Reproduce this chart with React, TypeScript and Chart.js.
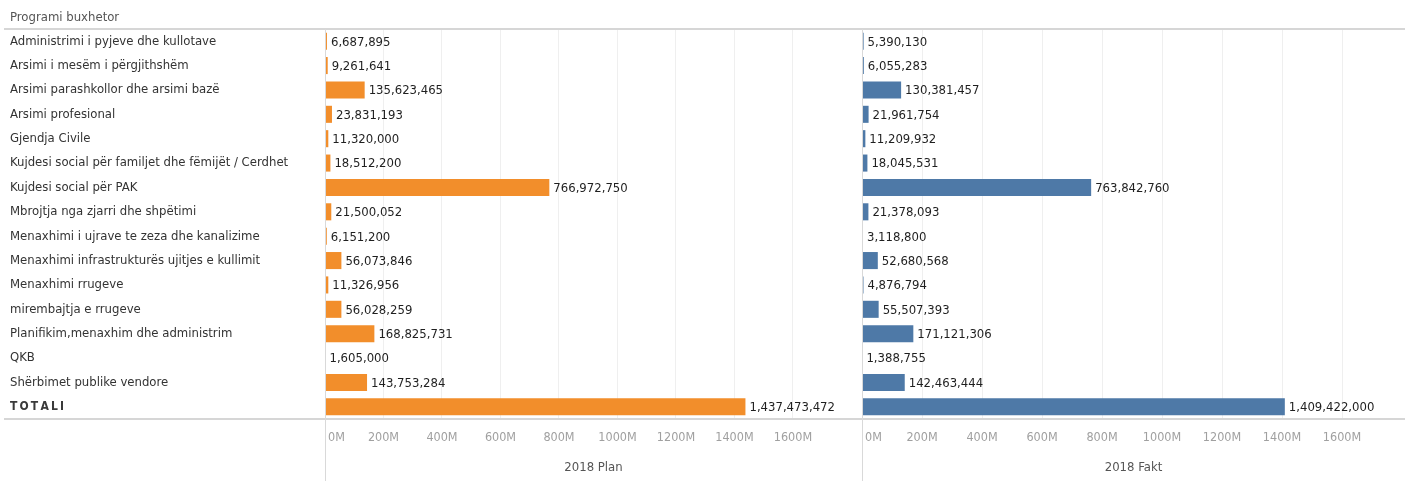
import React, { useEffect, useRef } from 'react';
import { Chart, registerables } from 'chart.js';

Chart.register(...registerables);

const headerTitle = 'Programi buxhetor';

const categories = [
  'Administrimi i pyjeve dhe kullotave',
  'Arsimi i mesëm i përgjithshëm',
  'Arsimi parashkollor dhe arsimi bazë',
  'Arsimi profesional',
  'Gjendja Civile',
  'Kujdesi social për familjet dhe fëmijët / Cerdhet',
  'Kujdesi social për PAK',
  'Mbrojtja nga zjarri dhe shpëtimi',
  'Menaxhimi i ujrave te zeza dhe kanalizime',
  'Menaxhimi infrastrukturës ujitjes e kullimit',
  'Menaxhimi rrugeve',
  'mirembajtja e rrugeve',
  'Planifikim,menaxhim dhe administrim',
  'QKB',
  'Shërbimet publike vendore',
  'TOTALI',
];

const planValues = [
  6687895, 9261641, 135623465, 23831193, 11320000, 18512200, 766972750, 21500052,
  6151200, 56073846, 11326956, 56028259, 168825731, 1605000, 143753284, 1437473472,
];

const faktValues = [
  5390130, 6055283, 130381457, 21961754, 11209932, 18045531, 763842760, 21378093,
  3118800, 52680568, 4876794, 55507393, 171121306, 1388755, 142463444, 1409422000,
];

const tickValues = [0, 200e6, 400e6, 600e6, 800e6, 1000e6, 1200e6, 1400e6, 1600e6];
const tickLabels = ['0M', '200M', '400M', '600M', '800M', '1000M', '1200M', '1400M', '1600M'];

const panelTitles = ['2018 Plan', '2018 Fakt'];

const W = 1405;
const H = 481;
const FONT = "'DejaVu Sans Condensed', 'Liberation Sans Narrow', 'DejaVu Sans', sans-serif";

const decorPlugin = {
  id: 'decor',
  afterDraw(chart: any) {
    const ctx = chart.ctx;
    const area = chart.chartArea;
    ctx.save();
    // header
    ctx.font = `13px ${FONT}`;
    ctx.fillStyle = '#555';
    ctx.textAlign = 'left';
    ctx.textBaseline = 'middle';
    ctx.fillText(headerTitle, 10, 18);

    // horizontal rules
    ctx.strokeStyle = '#d6d6d6';
    ctx.lineWidth = 2;
    ctx.beginPath();
    ctx.moveTo(4, area.top);
    ctx.lineTo(W, area.top);
    ctx.moveTo(4, area.bottom);
    ctx.lineTo(W, area.bottom);
    ctx.stroke();

    // vertical panel separators
    const xPlan = chart.scales.xPlan;
    const xFakt = chart.scales.xFakt;
    ctx.strokeStyle = '#d9d9d9';
    ctx.lineWidth = 1;
    ctx.beginPath();
    [xPlan.left, xFakt.left].forEach((x: number) => {
      const px = Math.round(x) + 0.5;
      ctx.moveTo(px, area.top);
      ctx.lineTo(px, H);
    });
    ctx.stroke();

    // tick labels
    ctx.font = `12.5px ${FONT}`;
    ctx.fillStyle = '#a0a0a0';
    ctx.textBaseline = 'middle';
    [xPlan, xFakt].forEach((scale: any) => {
      tickValues.forEach((v, i) => {
        const x = scale.getPixelForValue(v);
        if (i === 0) {
          ctx.textAlign = 'left';
          ctx.fillText(tickLabels[i], x + 3, area.bottom + 19);
        } else {
          ctx.textAlign = 'center';
          ctx.fillText(tickLabels[i], x, area.bottom + 19);
        }
      });
    });

    // value labels
    ctx.font = `13px ${FONT}`;
    ctx.fillStyle = '#1f1f1f';
    ctx.textAlign = 'left';
    chart.data.datasets.forEach((ds: any, di: number) => {
      const meta = chart.getDatasetMeta(di);
      meta.data.forEach((bar: any, i: number) => {
        const v = ds.data[i] as number;
        ctx.fillText(v.toLocaleString('en-US'), bar.x + 4, bar.y + 1);
      });
    });
    ctx.restore();
  },
};

export default function App() {
  const ref = useRef<HTMLCanvasElement | null>(null);

  useEffect(() => {
    const canvas = ref.current;
    if (!canvas) return;
    const lastIndex = categories.length - 1;
    const chart = new Chart(canvas, {
      type: 'bar',
      data: {
        labels: categories,
        datasets: [
          {
            label: panelTitles[0],
            data: planValues,
            xAxisID: 'xPlan',
            backgroundColor: '#F28E2B',
            borderWidth: 0,
            barPercentage: 0.7,
            categoryPercentage: 1,
            grouped: false,
          },
          {
            label: panelTitles[1],
            data: faktValues,
            xAxisID: 'xFakt',
            backgroundColor: '#4E79A7',
            borderWidth: 0,
            barPercentage: 0.7,
            categoryPercentage: 1,
            grouped: false,
          },
        ],
      },
      options: {
        indexAxis: 'y',
        responsive: false,
        animation: false,
        devicePixelRatio: 1,
        layout: { padding: { left: 10, top: 29, right: 0, bottom: 0 } },
        plugins: {
          legend: { display: false },
          tooltip: { enabled: false },
        },
        scales: {
          y: {
            type: 'category',
            position: 'left',
            grid: { display: false, drawTicks: false },
            border: { display: false },
            ticks: {
              crossAlign: 'far',
              padding: 0,
              color: (c: any) => (c.index === lastIndex ? '#3a3a3a' : '#333'),
              font: (c: any) =>
                c.index === lastIndex
                  ? { family: FONT, size: 12, weight: 'bold' }
                  : { family: FONT, size: 13 },
              callback: (_v: any, i: number) =>
                i === lastIndex ? categories[i].split('').join('\u2009') : categories[i],
            },
            afterFit: (s: any) => {
              s.width = 315;
            },
          },
          xPlan: {
            type: 'linear',
            position: 'bottom',
            stack: 'panels',
            stackWeight: 537,
            min: 0,
            max: 1836e6,
            grid: { color: '#efefef', drawTicks: false },
            border: { display: false },
            ticks: { display: false },
            afterBuildTicks: (s: any) => {
              s.ticks = tickValues.map((v) => ({ value: v }));
            },
            title: {
              display: true,
              text: panelTitles[0],
              color: '#555',
              font: { family: FONT, size: 13 },
              padding: { top: 0, bottom: 6 },
            },
            afterFit: (s: any) => {
              s.height = 62;
            },
          },
          xFakt: {
            type: 'linear',
            position: 'bottom',
            stack: 'panels',
            stackWeight: 543,
            min: 0,
            max: 1810e6,
            grid: { color: '#efefef', drawTicks: false },
            border: { display: false },
            ticks: { display: false },
            afterBuildTicks: (s: any) => {
              s.ticks = tickValues.map((v) => ({ value: v }));
            },
            title: {
              display: true,
              text: panelTitles[1],
              color: '#555',
              font: { family: FONT, size: 13 },
              padding: { top: 0, bottom: 6 },
            },
            afterFit: (s: any) => {
              s.height = 62;
            },
          },
        },
      } as any,
      plugins: [decorPlugin],
    });
    return () => chart.destroy();
  }, []);

  return (
    <div
      style={{
        position: 'absolute',
        left: 0,
        top: 0,
        width: W,
        height: H,
        overflow: 'hidden',
        background: '#fff',
      }}
    >
      <canvas ref={ref} width={W} height={H} style={{ display: 'block' }} />
    </div>
  );
}
